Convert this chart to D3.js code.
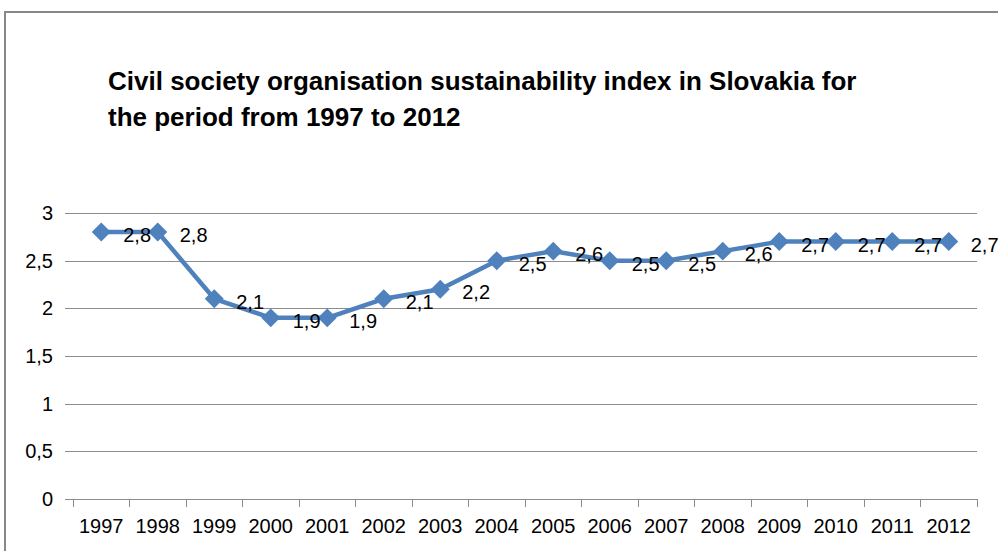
<!DOCTYPE html>
<html>
<head>
<meta charset="utf-8">
<script src="https://cdn.jsdelivr.net/npm/d3@7"></script>
<style>
	body { margin: 0; background: #fff; }
	svg { display: block; font-family: "Liberation Sans", Arial, sans-serif; }
</style>
</head>
<body>
<div id="chart"></div>
<script>
// data
var years = ["1997","1998","1999","2000","2001","2002","2003","2004",
	"2005","2006","2007","2008","2009","2010","2011","2012"];
var indexValues = [2.8,2.8,2.1,1.9,1.9,2.1,2.2,2.5,2.6,2.5,2.5,2.6,2.7,2.7,2.7,2.7];
var yTicks = [0,0.5,1,1.5,2,2.5,3];
var titleLines = ["Civil society organisation sustainability index in Slovakia for",
	"the period from 1997 to 2012"];

var WIDTH = 998, HEIGHT = 551;
var LINE_COLOUR = "#4f81bd";
var GRID_COLOUR = "#8c8c8c";

var margin = {left: 73, right: 21, top: 213, bottom: 52};
var plotW = WIDTH - margin.left - margin.right;
var plotH = HEIGHT - margin.top - margin.bottom;

// comma decimal separator like the original
var fmt = d3.formatLocale({decimal: ",", thousands: " ", grouping: [3], currency: ["", ""]}).format("~g");

var svg = d3.select('#chart').append('svg')
	.attr('width', WIDTH).attr('height', HEIGHT);

// outer chart border (only top and left visible in the crop)
svg.append('path')
	.attr('d', 'M5,' + HEIGHT + 'V12H' + WIDTH)
	.attr('fill', 'none').attr('stroke', '#888').attr('stroke-width', 2);

// title
svg.append('g').selectAll('text').data(titleLines).join('text')
	.attr('x', 108).attr('y', (d, i) => 90 + i * 36)
	.attr('font-size', 26).attr('font-weight', 'bold').attr('fill', '#000')
	.text(d => d);

var x = d3.scaleBand().domain(years).range([0, plotW]).padding(0);
var y = d3.scaleLinear().domain([0, 3]).range([plotH, 0]);

var chartArea = svg.append('g')
	.attr('transform', 'translate(' + margin.left + ',' + margin.top + ')');

// grid lines
var grid = chartArea.append('g')
	.call(d3.axisLeft(y).tickValues(yTicks).tickFormat("").tickSize(-plotW).tickSizeOuter(0));
grid.selectAll('path').remove();
grid.selectAll('.tick line').attr('stroke', GRID_COLOUR).attr('stroke-width', 1)
	.attr('shape-rendering', 'crispEdges');

// y axis: ticks + labels, no spine
var yAxis = chartArea.append('g')
	.call(d3.axisLeft(y).tickValues(yTicks).tickFormat(fmt).tickSize(8).tickPadding(12));
yAxis.selectAll('path').remove();
yAxis.selectAll('.tick line').attr('stroke', GRID_COLOUR).attr('shape-rendering', 'crispEdges');
yAxis.selectAll('text').attr('font-size', 20).attr('fill', '#000')
	.attr('font-family', '"Liberation Sans", Arial, sans-serif');

// x axis: labels at band centres
var xAxis = chartArea.append('g')
	.attr('transform', 'translate(0,' + plotH + ')')
	.call(d3.axisBottom(x).tickSize(0).tickPadding(20));
xAxis.select('path').attr('stroke', GRID_COLOUR).attr('shape-rendering', 'crispEdges');
xAxis.selectAll('text').attr('font-size', 20).attr('fill', '#000')
	.attr('font-family', '"Liberation Sans", Arial, sans-serif');

// tick marks on the category boundaries
var bounds = years.map(d => x(d)).concat([x(years[years.length - 1]) + x.bandwidth()]);
chartArea.append('g').selectAll('line').data(bounds).join('line')
	.attr('x1', d => d).attr('x2', d => d)
	.attr('y1', plotH).attr('y2', plotH + 8)
	.attr('stroke', GRID_COLOUR).attr('shape-rendering', 'crispEdges');

var cx = function(i) { return x(years[i]) + x.bandwidth() / 2; };

// the series line
var line = d3.line().x((d, i) => cx(i)).y(d => y(d));
chartArea.append('path').datum(indexValues)
	.attr('d', line)
	.attr('fill', 'none').attr('stroke', LINE_COLOUR).attr('stroke-width', 4.5)
	.attr('stroke-linejoin', 'round');

// diamond markers
var diamond = d3.symbol().type(d3.symbolSquare).size(180);
chartArea.append('g').selectAll('path').data(indexValues).join('path')
	.attr('d', diamond)
	.attr('transform', (d, i) => 'translate(' + cx(i) + ',' + y(d) + ') rotate(45)')
	.attr('fill', LINE_COLOUR);

// data labels, to the right of each point
chartArea.append('g').selectAll('text').data(indexValues).join('text')
	.attr('x', (d, i) => cx(i) + 22)
	.attr('y', d => y(d) + 3)
	.attr('dy', '0.35em')
	.attr('font-size', 20).attr('fill', '#000')
	.text(d => fmt(d));
</script>
</body>
</html>
